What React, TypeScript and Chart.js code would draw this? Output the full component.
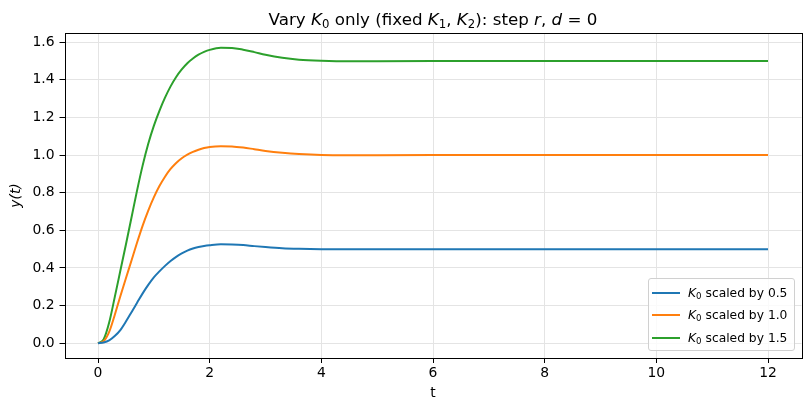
import React, { useEffect, useRef } from "react";
import { Chart, registerables } from "chart.js";

Chart.register(...registerables);

const tValues = [0, 0.1, 0.2, 0.3, 0.4, 0.5, 0.6, 0.7, 0.8, 0.9, 1.0, 1.1, 1.2, 1.3, 1.4, 1.5, 1.6, 1.7, 1.8, 1.9, 2.0, 2.2, 2.4, 2.6, 2.8, 3.0, 3.3, 3.6, 4.0, 4.5, 5, 6, 7, 8, 9, 10, 11, 12];

const yScale05 = [0, 0.004, 0.015, 0.038, 0.07, 0.115, 0.165, 0.215, 0.265, 0.31, 0.35, 0.382, 0.411, 0.437, 0.459, 0.477, 0.492, 0.503, 0.511, 0.517, 0.521, 0.526, 0.525, 0.522, 0.516, 0.511, 0.505, 0.502, 0.5, 0.499, 0.4995, 0.5, 0.5, 0.5, 0.5, 0.5, 0.5, 0.5];
const yScale10 = [0, 0.01, 0.06, 0.15, 0.25, 0.345, 0.44, 0.535, 0.625, 0.705, 0.775, 0.835, 0.885, 0.926, 0.958, 0.983, 1.002, 1.017, 1.028, 1.037, 1.043, 1.047, 1.046, 1.04, 1.031, 1.022, 1.012, 1.005, 1.0, 0.999, 0.9995, 1.0, 1.0, 1.0, 1.0, 1.0, 1.0, 1.0];
const yScale15 = [0, 0.02, 0.11, 0.245, 0.385, 0.525, 0.668, 0.812, 0.945, 1.06, 1.155, 1.235, 1.305, 1.365, 1.415, 1.455, 1.488, 1.513, 1.533, 1.548, 1.559, 1.57, 1.569, 1.56, 1.547, 1.533, 1.517, 1.507, 1.501, 1.498, 1.499, 1.5, 1.5, 1.5, 1.5, 1.5, 1.5, 1.5];

const scaleFactors = ["0.5", "1.0", "1.5"];
const seriesColors = ["#1f77b4", "#ff7f0e", "#2ca02c"];
const xTicks = [0, 2, 4, 6, 8, 10, 12];
const yTicks = [0, 0.2, 0.4, 0.6, 0.8, 1.0, 1.2, 1.4, 1.6];

const FONT = "'DejaVu Sans', sans-serif";

const framePlugin = {
  id: "frame",
  afterDraw(chart: any) {
    const { ctx, chartArea } = chart;
    ctx.save();
    ctx.strokeStyle = "#000";
    ctx.lineWidth = 1;
    ctx.strokeRect(
      Math.round(chartArea.left) + 0.5,
      Math.round(chartArea.top) + 0.5,
      Math.round(chartArea.right - chartArea.left),
      Math.round(chartArea.bottom - chartArea.top)
    );
    ctx.restore();
  },
};

export default function App() {
  const canvasRef = useRef<HTMLCanvasElement | null>(null);

  useEffect(() => {
    if (!canvasRef.current) return;
    const seriesY = [yScale05, yScale10, yScale15];
    const chart = new Chart(canvasRef.current, {
      type: "line",
      data: {
        datasets: seriesY.map((ys, i) => ({
          label: `K₀ scaled by ${scaleFactors[i]}`,
          data: tValues.map((t, j) => ({ x: t, y: ys[j] })),
          borderColor: seriesColors[i],
          backgroundColor: seriesColors[i],
          borderWidth: 2,
          pointRadius: 0,
          cubicInterpolationMode: "monotone",
          fill: false,
        })),
      },
      options: {
        animation: false,
        responsive: true,
        maintainAspectRatio: false,
        layout: { padding: { left: 0, right: 9.5, top: 33, bottom: 0 } },
        plugins: {
          legend: { display: false },
          title: { display: false },
          tooltip: { enabled: false },
        },
        scales: {
          x: {
            type: "linear",
            min: -0.6,
            max: 12.6,
            afterFit: (axis: any) => {
              axis.height = 53;
            },
            afterBuildTicks: (axis: any) => {
              axis.ticks = xTicks.map((v) => ({ value: v }));
            },
            ticks: {
              color: "#000",
              font: { family: FONT, size: 13.9 },
              padding: 2,
              maxRotation: 0,
              callback: (v: any) => String(v),
            },
            grid: {
              color: "#e4e4e4",
              lineWidth: 1,
              tickColor: "#000",
              tickLength: 5,
            },
            border: { display: false },
            title: {
              display: true,
              text: "t",
              color: "#000",
              font: { family: FONT, size: 13.9 },
              padding: { top: 0, bottom: 9 },
            },
          },
          y: {
            type: "linear",
            min: -0.0785,
            max: 1.6485,
            afterFit: (axis: any) => {
              axis.width = 64.5;
            },
            afterBuildTicks: (axis: any) => {
              axis.ticks = yTicks.map((v) => ({ value: v }));
            },
            ticks: {
              color: "#000",
              font: { family: FONT, size: 13.9 },
              padding: 5,
              callback: (v: any) => Number(v).toFixed(1),
            },
            grid: {
              color: "#e4e4e4",
              lineWidth: 1,
              tickColor: "#000",
              tickLength: 5,
            },
            border: { display: false },
            title: {
              display: true,
              text: "y(t)",
              color: "#000",
              font: { family: FONT, size: 13.9, style: "italic" },
              padding: { top: 8, bottom: 0 },
            },
          },
        },
      },
      plugins: [framePlugin],
    });
    return () => chart.destroy();
  }, []);

  const sub = (s: string) => (
    <sub style={{ fontSize: "70%", verticalAlign: "-0.25em", lineHeight: 0 }}>{s}</sub>
  );

  return (
    <div style={{ position: "fixed", left: 0, top: 0, width: 811, height: 411, background: "#fff" }}>
      <canvas ref={canvasRef} />
      <div
        style={{
          position: "absolute",
          left: 64.5,
          width: 737,
          top: 8,
          lineHeight: "22px",
          textAlign: "center",
          fontFamily: FONT,
          fontSize: 16.7,
          color: "#000",
          whiteSpace: "nowrap",
        }}
      >
        Vary <i>K</i>{sub("0")} only (fixed <i>K</i>{sub("1")}, <i>K</i>{sub("2")}): step <i>r</i>, <i>d</i> = 0
      </div>
      <div
        style={{
          position: "absolute",
          left: 648,
          top: 278,
          width: 145,
          height: 71,
          border: "1px solid #d0d0d0",
          borderRadius: 3,
          background: "rgba(255,255,255,0.8)",
          fontFamily: FONT,
          fontSize: 12.3,
          color: "#000",
        }}
      >
        {scaleFactors.map((f, i) => (
          <div
            key={f}
            style={{
              position: "absolute",
              left: 0,
              top: 3 + i * 22.3,
              height: 22,
              display: "flex",
              alignItems: "center",
              whiteSpace: "nowrap",
            }}
          >
            <span
              style={{
                display: "inline-block",
                marginLeft: 3,
                width: 28,
                height: 2,
                background: seriesColors[i],
              }}
            />
            <span style={{ marginLeft: 8 }}>
              <i>K</i>
              {sub("0")} scaled by {f}
            </span>
          </div>
        ))}
      </div>
    </div>
  );
}
